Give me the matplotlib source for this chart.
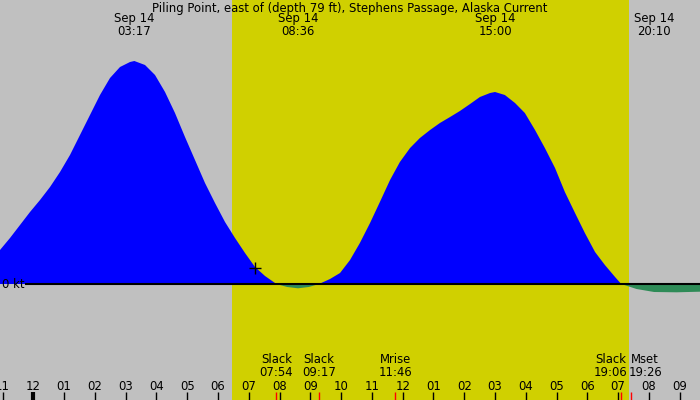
import matplotlib
matplotlib.use("Agg")
import matplotlib.pyplot as plt
import matplotlib.transforms as mtransforms
import numpy as np

# current speed (kt), time in hours from midnight Sep 14
hours = [-1.082, -0.757, -0.432, -0.107, 0.218, 0.543, 0.868, 1.192, 1.517, 1.842,
         2.167, 2.492, 2.817, 3.142, 3.283, 3.629, 3.954, 4.279, 4.603, 4.928,
         5.253, 5.578, 5.903, 6.228, 6.553, 6.878, 7.203, 7.528, 7.853, 7.90,
         8.25, 8.60, 8.95, 9.283, 9.64, 9.965, 10.29, 10.61, 10.94, 11.26, 11.59,
         11.91, 12.24, 12.56, 12.89, 13.21, 13.54, 13.86, 14.19, 14.51, 14.84,
         15.00, 15.32, 15.65, 15.97, 16.30, 16.62, 16.95, 17.27, 17.60, 17.92,
         18.25, 18.57, 18.90, 19.10, 19.60, 20.167, 20.90, 21.66]
knots = [0.34, 0.46, 0.59, 0.72, 0.84, 0.97, 1.12, 1.29, 1.49, 1.69,
         1.89, 2.06, 2.17, 2.22, 2.23, 2.19, 2.09, 1.92, 1.71, 1.47,
         1.24, 1.01, 0.81, 0.62, 0.46, 0.31, 0.17, 0.08, 0.01, 0.0,
         -0.03, -0.043, -0.03, 0.0, 0.05, 0.11, 0.24, 0.41, 0.61, 0.82, 1.04,
         1.22, 1.36, 1.46, 1.54, 1.61, 1.67, 1.73, 1.80, 1.87, 1.91,
         1.92, 1.89, 1.81, 1.71, 1.54, 1.36, 1.16, 0.92, 0.71, 0.51,
         0.32, 0.19, 0.07, 0.0, -0.05, -0.08, -0.083, -0.077]

sunrise, sunset = 6.455, 19.354

peak_times = [3.283, 8.6, 15.0, 20.167]
peak_labels = ["Sep 14\n03:17", "Sep 14\n08:36", "Sep 14\n15:00", "Sep 14\n20:10"]

event_times = [7.9, 9.283, 11.767, 19.1, 19.433]
event_labels = ["Slack\n07:54", "Slack\n09:17", "Mrise\n11:46", "Slack\n19:06", "Mset\n19:26"]
event_label_x = [7.9, 9.283, 11.767, 18.76, 19.88]

hour_ticks = list(range(-1, 22))
hour_labels = ["11", "12", "01", "02", "03", "04", "05", "06", "07", "08", "09", "10",
               "11", "12", "01", "02", "03", "04", "05", "06", "07", "08", "09"]

now_time, now_kt = 7.20, 0.16

title = "Piling Point, east of (depth 79 ft), Stephens Passage, Alaska Current"
fs = 8.4

fig = plt.figure(figsize=(7, 4), dpi=100, facecolor="#c0c0c0")
ax = fig.add_axes([0, 0, 1, 1])
ax.set_xlim(-1.082, 21.66)
ax.set_ylim(-1.16, 2.84)
ax.axis("off")

ax.axvspan(sunrise, sunset, color="#d0d000", lw=0)

t = np.array(hours)
v = np.array(knots)
ax.fill_between(t, 0, v, where=v >= 0, interpolate=True, color="#0000ff", lw=0)
ax.fill_between(t, 0, v, where=v <= 0, interpolate=True, color="#2e8b57", lw=0)

ax.plot([-0.24, 21.66], [0, 0], color="black", lw=1.5)
ax.text(-1.03, 0, "0 kt", fontsize=fs, va="center", ha="left")
ax.plot(now_time, now_kt, marker="+", color="black", ms=9, mew=1)

fig.text(0.5, 0.979, title, ha="center", va="center", fontsize=fs)

trans = mtransforms.blended_transform_factory(ax.transData, ax.transAxes)
for tm, lab in zip(peak_times, peak_labels):
    ax.text(tm, 0.937, lab, transform=trans, ha="center", va="center",
            fontsize=fs, linespacing=0.95)

for tm in hour_ticks:
    lw = 3 if tm == 0 else 1
    ax.plot([tm, tm], [0, 0.02], transform=trans, color="black", lw=lw,
            solid_capstyle="butt")
for tm, lab in zip(hour_ticks, hour_labels):
    ax.text(tm, 0.035, lab, transform=trans, ha="center", va="center", fontsize=fs)

for tm in event_times:
    ax.plot([tm, tm], [0, 0.02], transform=trans, color="red", lw=1,
            solid_capstyle="butt")
for tm, lab in zip(event_label_x, event_labels):
    ax.text(tm, 0.085, lab, transform=trans, ha="center", va="center",
            fontsize=fs, linespacing=0.92)

fig.savefig("out.png", dpi=100, facecolor=fig.get_facecolor())
